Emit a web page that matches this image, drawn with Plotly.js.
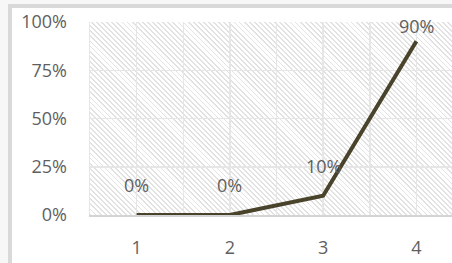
<!DOCTYPE html>
<html>
<head>
<meta charset="utf-8">
<script src="https://cdn.plot.ly/plotly-3.0.1.min.js"></script>
<style>
  html, body { margin: 0; padding: 0; width: 452px; height: 263px; overflow: hidden; background: #f7f7f7; }
  #frame { position: absolute; left: 8px; top: 4px; width: 460px; height: 257px;
           border-left: 4px solid #d9d9d9; border-top: 4px solid #d9d9d9;
           border-bottom: 1px solid #e4e4e4; background: #ffffff; }
  #hatch { position: absolute; left: 90px; top: 22px; width: 373px; height: 193px;
           background: repeating-linear-gradient(45deg, #e2e2e2 0px, #e2e2e2 1.3px, #ffffff 1.3px, #ffffff 3.6px); }
  #chart { position: absolute; left: 12px; top: 8px; }
</style>
</head>
<body>
<div id="frame"></div>
<div id="hatch"></div>
<div id="chart"></div>
<script>
const categories = [1, 2, 3, 4];
const values = [0, 0, 0.10, 0.90];
const valueLabels = ['0%', '0%', '10%', '90%'];
const yTickVals = [0, 0.25, 0.5, 0.75, 1];
const yTickText = ['0%', '25%', '50%', '75%', '100%'];

const font = { family: 'Open Sans, sans-serif', size: 18, color: '#5f5f5f' };

const trace = {
  x: categories,
  y: values,
  type: 'scatter',
  mode: 'lines',
  line: { color: '#48432a', width: 4 },
  hoverinfo: 'skip',
  cliponaxis: false
};

const annotations = categories.map((c, i) => ({
  x: c, y: values[i], xref: 'x', yref: 'y',
  text: valueLabels[i], showarrow: false,
  yshift: values[i] > 0.85 ? 15 : 30,
  font: font
}));

const layout = {
  width: 451, height: 254,
  margin: { l: 78, r: 0, t: 14, b: 47 },
  paper_bgcolor: 'rgba(0,0,0,0)',
  plot_bgcolor: 'rgba(0,0,0,0)',
  showlegend: false,
  font: font,
  xaxis: {
    range: [0.5, 4.5], tickmode: 'array', tickvals: categories,
    ticktext: categories.map(String),
    showgrid: true, gridcolor: '#e6e6e6', gridwidth: 1.5,
    minor: { dtick: 0.5, tick0: 0.5, showgrid: true, gridcolor: '#e6e6e6', gridwidth: 1.5 },
    zeroline: false, showline: true, linecolor: '#d4d4d4', linewidth: 1.5,
    ticks: '', ticklabelstandoff: 16, tickfont: font, fixedrange: true
  },
  yaxis: {
    range: [0, 1], tickmode: 'array', tickvals: yTickVals, ticktext: yTickText,
    showgrid: true, gridcolor: '#e6e6e6', gridwidth: 1.5,
    zeroline: false, showline: true, linecolor: '#e6e6e6', linewidth: 1.5,
    ticks: '', ticklabelstandoff: 18, tickfont: font, fixedrange: true
  },
  annotations: annotations
};

Plotly.newPlot('chart', [trace], layout, { displayModeBar: false, staticPlot: true });
</script>
</body>
</html>
